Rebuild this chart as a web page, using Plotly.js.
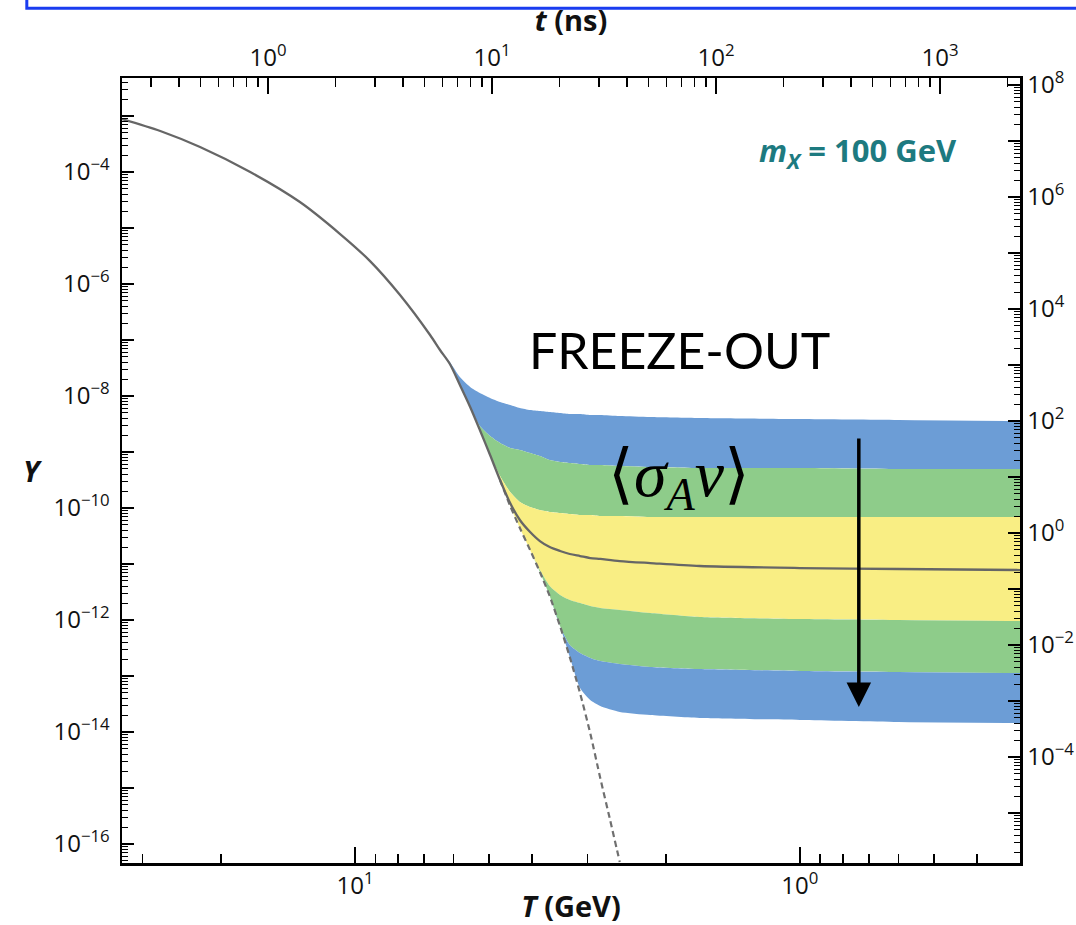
<!DOCTYPE html>
<html><head><meta charset="utf-8">
<script src="https://cdn.plot.ly/plotly-3.0.1.min.js"></script>
<style>html,body{margin:0;padding:0;background:#fff}#chart{width:1076px;height:925px}</style>
</head><body><div id="chart"></div>
<script>
// Equilibrium abundance Y_eq(T)  (T in GeV)
const T_eq = [33.4, 27.4, 22.3, 17.2, 13.3, 10.8, 9.25, 7.92, 6.78, 6.44, 6.12, 5.81, 5.51, 5.24, 4.97, 4.72, 4.48, 4.26, 4.04, 3.84, 3.65, 3.46, 3.29, 3.12, 2.96, 2.81, 2.67, 2.54];
const Y_eq = [8.83e-4, 5.40e-4, 2.79e-4, 1.00e-4, 2.91e-5, 7.81e-6, 2.57e-6, 6.37e-7, 1.23e-7, 6.63e-8, 3.73e-8, 1.57e-8, 6.36e-9, 2.47e-9, 8.84e-10, 3.16e-10, 1.09e-10, 4.39e-11, 1.78e-11, 7.20e-12, 2.68e-12, 7.81e-13, 2.18e-13, 4.97e-14, 9.60e-15, 1.51e-15, 2.68e-16, 4.77e-17];

// Freeze-out curves for different <sigma_A v> (band edges), on a shared T grid
const T_band = [6.44, 6.12, 5.81, 5.51, 5.24, 4.97, 4.72, 4.48, 4.26, 4.04, 3.84, 3.65, 3.46, 3.29, 3.12, 2.96, 2.81, 2.54, 2.17, 1.68, 1.0, 0.6, 0.32];
const Y_c1 = [6.63e-8, 4.05e-8, 2.18e-8, 1.45e-8, 1.13e-8, 9.21e-9, 7.81e-9, 6.91e-9, 6.11e-9, 5.62e-9, 5.40e-9, 5.18e-9, 4.97e-9, 4.77e-9, 4.77e-9, 4.58e-9, 4.58e-9, 4.39e-9, 4.22e-9, 4.05e-9, 3.88e-9, 3.73e-9, 3.58e-9];
const Y_c2 = [6.63e-8, 3.73e-8, 1.57e-8, 6.36e-9, 2.91e-9, 1.93e-9, 1.45e-9, 1.18e-9, 1.09e-9, 9.60e-10, 8.48e-10, 7.20e-10, 6.63e-10, 6.36e-10, 6.11e-10, 5.86e-10, 5.86e-10, 5.62e-10, 5.40e-10, 5.18e-10, 5.18e-10, 4.97e-10, 4.97e-10];
const Y_c3 = [6.63e-8, 3.73e-8, 1.57e-8, 6.36e-9, 2.47e-9, 8.84e-10, 3.73e-10, 1.93e-10, 1.28e-10, 1.04e-10, 9.21e-11, 8.48e-11, 8.14e-11, 7.81e-11, 7.50e-11, 7.50e-11, 7.20e-11, 7.20e-11, 6.91e-11, 6.91e-11, 6.91e-11, 6.91e-11, 6.91e-11];
const Y_c4 = [6.63e-8, 3.73e-8, 1.57e-8, 6.36e-9, 2.47e-9, 8.84e-10, 3.16e-10, 1.23e-10, 6.11e-11, 3.73e-11, 2.57e-11, 2.01e-11, 1.71e-11, 1.51e-11, 1.39e-11, 1.28e-11, 1.23e-11, 1.13e-11, 1.04e-11, 9.21e-12, 8.48e-12, 8.14e-12, 7.81e-12];
const Y_c5 = [6.63e-8, 3.73e-8, 1.57e-8, 6.36e-9, 2.47e-9, 8.84e-10, 3.16e-10, 1.09e-10, 4.39e-11, 1.78e-11, 7.81e-12, 4.05e-12, 2.80e-12, 2.28e-12, 2.01e-12, 1.78e-12, 1.64e-12, 1.51e-12, 1.33e-12, 1.13e-12, 1.04e-12, 1.0e-12, 9.60e-13];
const Y_c6 = [6.63e-8, 3.73e-8, 1.57e-8, 6.36e-9, 2.47e-9, 8.84e-10, 3.16e-10, 1.09e-10, 4.39e-11, 1.78e-11, 7.20e-12, 2.68e-12, 7.81e-13, 3.58e-13, 2.57e-13, 2.10e-13, 1.85e-13, 1.64e-13, 1.45e-13, 1.33e-13, 1.23e-13, 1.18e-13, 1.13e-13];
const Y_c7 = [6.63e-8, 3.73e-8, 1.57e-8, 6.36e-9, 2.47e-9, 8.84e-10, 3.16e-10, 1.09e-10, 4.39e-11, 1.78e-11, 7.20e-12, 2.68e-12, 7.81e-13, 2.18e-13, 6.11e-14, 3.73e-14, 2.91e-14, 2.28e-14, 2.01e-14, 1.78e-14, 1.64e-14, 1.51e-14, 1.45e-14];

const T_split = 4.72;   // where the solid curve leaves equilibrium
const bandColors = {blue: '#6c9dd6', green: '#8ecc8a', yellow: '#f9ee84'};

const mLabel = '<b><i>m</i><sub><i>X</i></sub> = 100 GeV</b>';
const freezeLabel = 'FREEZE-OUT';
const sigmaLabel = '\u27E8<i>\u03C3</i><sub><i>A</i></sub><i>v</i>\u27E9';

// tick helpers
function pw(e){ return '10<sup>' + (e < 0 ? '\u2212' + (-e) : e) + '</sup>'; }
function decades(lo, hi){ const v=[]; for(let e=lo;e<=hi;e++) v.push(Math.pow(10,e)); return v; }
function minors(lo, hi){ const v=[]; for(let e=lo;e<=hi;e++) for(let d=2;d<=9;d++) v.push(d*Math.pow(10,e)); return v; }
function evenText(lo, hi){ const t=[]; for(let e=lo;e<=hi;e++) t.push(e%2===0 ? pw(e) : ''); return t; }

const tickFont = {family: 'Open Sans, sans-serif', size: 24, color: '#111'};
const titleFont = {family: 'Open Sans, sans-serif', size: 29, color: '#111'};
const common = {showgrid:false, zeroline:false, showline:true, linecolor:'#000', linewidth:2.5,
  ticks:'inside', tickcolor:'#000', tickwidth:1.5, tickfont: tickFont};

function band(y, color){
  return {x: T_band, y: y, type:'scatter', mode:'lines', line:{width:0, shape:'spline', smoothing:0.6, color: color},
    fill:'tonexty', fillcolor: color, hoverinfo:'skip', showlegend:false};
}

const solidT = [], solidY = [], dashT = [], dashY = [];
T_eq.forEach((t,i)=>{ if (t >= T_split){ solidT.push(t); solidY.push(Y_eq[i]); } if (t <= T_split){ dashT.push(t); dashY.push(Y_eq[i]); } });
T_band.forEach((t,i)=>{ if (t < T_split){ solidT.push(t); solidY.push(Y_c4[i]); } });

const traces = [
  {x: T_band, y: Y_c1, type:'scatter', mode:'lines', line:{width:0, shape:'spline', smoothing:0.6}, hoverinfo:'skip', showlegend:false},
  band(Y_c2, bandColors.blue),
  band(Y_c3, bandColors.green),
  band(Y_c5, bandColors.yellow),
  band(Y_c6, bandColors.green),
  band(Y_c7, bandColors.blue),
  {x: dashT, y: dashY, type:'scatter', mode:'lines', line:{color:'#6f6f6f', width:2.2, dash:'6px,4px', shape:'spline', smoothing:0.6}, hoverinfo:'skip', showlegend:false},
  {x: solidT, y: solidY, type:'scatter', mode:'lines', line:{color:'#666666', width:2.3, shape:'spline', smoothing:0.8}, hoverinfo:'skip', showlegend:false},
  {x: [], y: [], xaxis:'x2', yaxis:'y2', type:'scatter', mode:'lines', showlegend:false, hoverinfo:'skip'}
];

const layout = {
  width:1076, height:925, paper_bgcolor:'#fff', plot_bgcolor:'#fff',
  margin:{l:122, r:56, t:78, b:62}, showlegend:false,
  xaxis: Object.assign({}, common, {type:'log', range:[Math.log10(33.4), Math.log10(0.32)],
    tickmode:'array', tickvals:[1,10], ticktext:[pw(0), pw(1)], ticklen:16,
    minor:{ticks:'inside', tickmode:'array', tickvals: minors(-1,1), ticklen:9, tickcolor:'#000', tickwidth:1.5},
    title:{text:'<b><i>T</i> (GeV)</b>', font:titleFont, standoff:0}}),
  xaxis2: Object.assign({}, common, {type:'log', overlaying:'x', side:'top', anchor:'y', range:[-0.652, 3.357],
    tickmode:'array', tickvals:decades(0,3), ticktext:[pw(0),pw(1),pw(2),pw(3)], ticklen:16,
    minor:{ticks:'inside', tickmode:'array', tickvals: minors(-1,3), ticklen:9, tickcolor:'#000', tickwidth:1.5},
    title:{text:'<b><i>t</i> (ns)</b>', font:titleFont, standoff:0}}),
  yaxis: Object.assign({}, common, {type:'log', range:[-16.339, -2.321], ticklabelstandoff:5,
    tickmode:'array', tickvals:decades(-16,-3), ticktext:evenText(-16,-3), ticklen:12,
    minor:{ticks:'inside', tickmode:'array', tickvals: minors(-17,-3), ticklen:6, tickcolor:'#000', tickwidth:1.2}}),
  yaxis2: Object.assign({}, common, {type:'log', overlaying:'y', side:'right', anchor:'x', range:[-5.893, 8.125],
    tickmode:'array', tickvals:decades(-5,8), ticktext:evenText(-5,8), ticklen:12,
    minor:{ticks:'inside', tickmode:'array', tickvals: minors(-6,8), ticklen:6, tickcolor:'#000', tickwidth:1.2}}),
  annotations:[
    {xref:'paper', yref:'paper', x:-0.113, y:0.5, text:'<b><i>Y</i></b>', showarrow:false, font:titleFont},
    {xref:'paper', yref:'paper', x:0.707, xanchor:'left', y:0.906, yanchor:'middle', text:mLabel, showarrow:false,
      font:{family:'Open Sans, sans-serif', size:31, color:'#1d7a80'}},
    {xref:'paper', yref:'paper', x:0.621, y:0.6535, text:freezeLabel, showarrow:false,
      font:{family:'Lato, sans-serif', size:50, color:'#000'}},
    {xref:'paper', yref:'paper', x:0.62, y:0.49, text:sigmaLabel, showarrow:false,
      font:{family:'Liberation Serif, serif', size:66, color:'#000'}},
    {x:Math.log10(0.737), y:Math.log10(2.79e-14), ax:Math.log10(0.737), ay:Math.log10(1.85e-9), axref:'x', ayref:'y',
      xref:'x', yref:'y', text:'', showarrow:true, arrowhead:2, arrowsize:1.4, arrowwidth:3.5, arrowcolor:'#000', standoff:0, startstandoff:0}
  ],
  shapes:[
    {type:'rect', xref:'paper', yref:'paper', x0:-0.106, x1:1.2, y0:1.089, y1:1.3, line:{color:'#1a3cf0', width:3}, fillcolor:'rgba(0,0,0,0)'}
  ]
};

Plotly.newPlot('chart', traces, layout, {displayModeBar:false, staticPlot:true});
</script>
</body></html>
